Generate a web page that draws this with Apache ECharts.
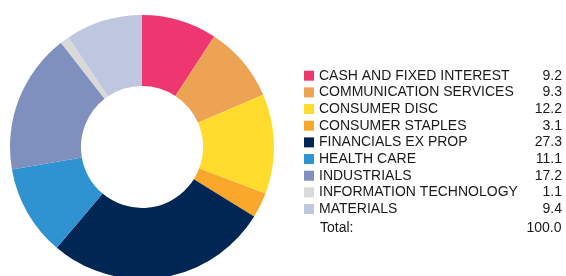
<!DOCTYPE html>
<html>
<head>
<meta charset="UTF-8">
<title>Sector allocation</title>
<script src="https://cdn.jsdelivr.net/npm/echarts@6/dist/echarts.min.js"></script>
<style>
  html, body { margin: 0; padding: 0; background: #fff; }
  #main { width: 566px; height: 276px; }
</style>
</head>
<body>
<div id="main"></div>
<script>
// sectors and weights (%)
var sectors = ['CASH AND FIXED INTEREST', 'COMMUNICATION SERVICES', 'CONSUMER DISC', 'CONSUMER STAPLES',
  'FINANCIALS EX PROP', 'HEALTH CARE', 'INDUSTRIALS', 'INFORMATION TECHNOLOGY', 'MATERIALS'];
var weights = [9.2, 9.3, 12.2, 3.1, 27.3, 11.1, 17.2, 1.1, 9.4];
var colors = ['#ee3770', '#eda354', '#ffdb2e', '#f9a72b', '#002654', '#3093d1', '#7f90bf', '#d9d9d9', '#bfc6e0'];
var totalLabel = 'Total:';
var totalValue = '100.0';

var chart = echarts.init(document.getElementById('main'));

var pieData = [];
for (var i = 0; i < sectors.length; i++) {
  pieData.push({ name: sectors[i], value: weights[i] });
}

var font = 'Liberation Sans, Arial';

var option = {
  animation: false,
  color: colors,
  legend: {
    orient: 'vertical',
    left: 304,
    top: 68.7,
    padding: 0,
    icon: 'rect',
    itemWidth: 10,
    itemHeight: 10,
    itemGap: 2.67,
    data: sectors,
    formatter: function (name) {
      var idx = sectors.indexOf(name);
      return '{n|' + name + '}{v|' + weights[idx].toFixed(1) + '}';
    },
    textStyle: {
      rich: {
        n: { width: 200, fontSize: 14, lineHeight: 14, fontFamily: font, color: '#1a1a1a' },
        v: { width: 43, align: 'right', fontSize: 14, lineHeight: 14, fontFamily: font, color: '#1a1a1a' }
      }
    }
  },
  graphic: [
    { type: 'text', left: 320, top: 221, style: { text: totalLabel, fontSize: 14, fontFamily: font, fill: '#1a1a1a' } },
    { type: 'text', right: 4.5, top: 221, style: { text: totalValue, fontSize: 14, fontFamily: font, fill: '#1a1a1a', align: 'right' } }
  ],
  series: [{
    type: 'pie',
    center: [142, 147],
    radius: [61, 132],
    startAngle: 90,
    clockwise: true,
    label: { show: false },
    labelLine: { show: false },
    emphasis: { disabled: true },
    data: pieData
  }]
};

chart.setOption(option);
</script>
</body>
</html>
